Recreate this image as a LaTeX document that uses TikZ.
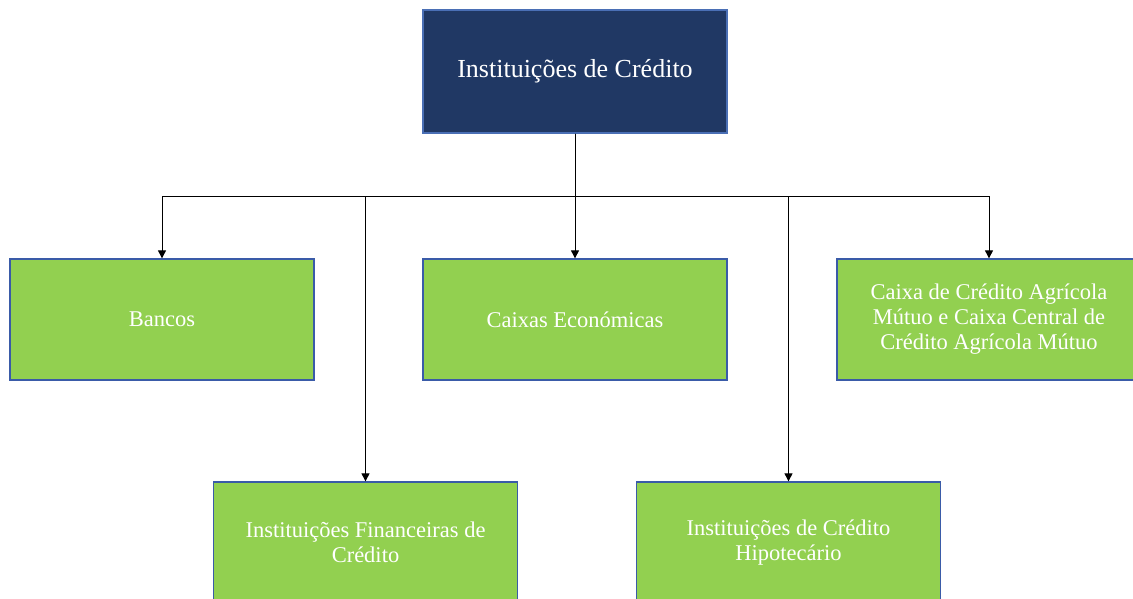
\documentclass[tikz,border=0pt]{standalone}
\usepackage{fontspec}
\setmainfont{Liberation Serif}
\usetikzlibrary{arrows.meta}
\definecolor{navy}{HTML}{203864}
\definecolor{navyedge}{HTML}{4A6FB5}
\definecolor{leaf}{HTML}{92D050}
\definecolor{leafedge}{HTML}{3A5BA8}
\tikzset{
  topbox/.style={draw=navyedge, fill=navy, line width=1.3pt, text=white, minimum width=304pt, minimum height=123pt, inner sep=0pt, align=center, font=\fontsize{26}{28}\selectfont},
  leafbox/.style={draw=leafedge, fill=leaf, line width=1.3pt, text=white, minimum width=304pt, minimum height=121pt, inner sep=0pt, align=center, font=\fontsize{22.5}{25}\selectfont},
  conn/.style={draw=black, line width=0.9pt, -{Triangle[width=8pt,length=8pt]}}
}
\begin{document}
\begin{tikzpicture}[x=1pt,y=-1pt]
\useasboundingbox (0,0) rectangle (1133,598);
\clip (0,0) rectangle (1133,598);
\node[topbox] (top) at (575,71.5) {Instituições de Crédito};
\node[leafbox] (bancos) at (162,319.5) {Bancos};
\node[leafbox] (caixas) at (575,319.5) {Caixas Económicas};
\node[leafbox] (agricola) at (989,319.5) {Caixa de Crédito Agrícola\\Mútuo e Caixa Central de\\Crédito Agrícola Mútuo};
\node[leafbox] (ifc) at (365.5,542.5) {Instituições Financeiras de\\Crédito};
\node[leafbox] (ihc) at (788.5,542.5) {Instituições de Crédito\\Hipotecário};
\draw[conn] (top.south) -- ++(0,63) -| (bancos.north);
\draw[conn] (top.south) -- ++(0,63) -| (ifc.north);
\draw[conn] (top.south) -- (caixas.north);
\draw[conn] (top.south) -- ++(0,63) -| (ihc.north);
\draw[conn] (top.south) -- ++(0,63) -| (agricola.north);
\end{tikzpicture}
\end{document}
